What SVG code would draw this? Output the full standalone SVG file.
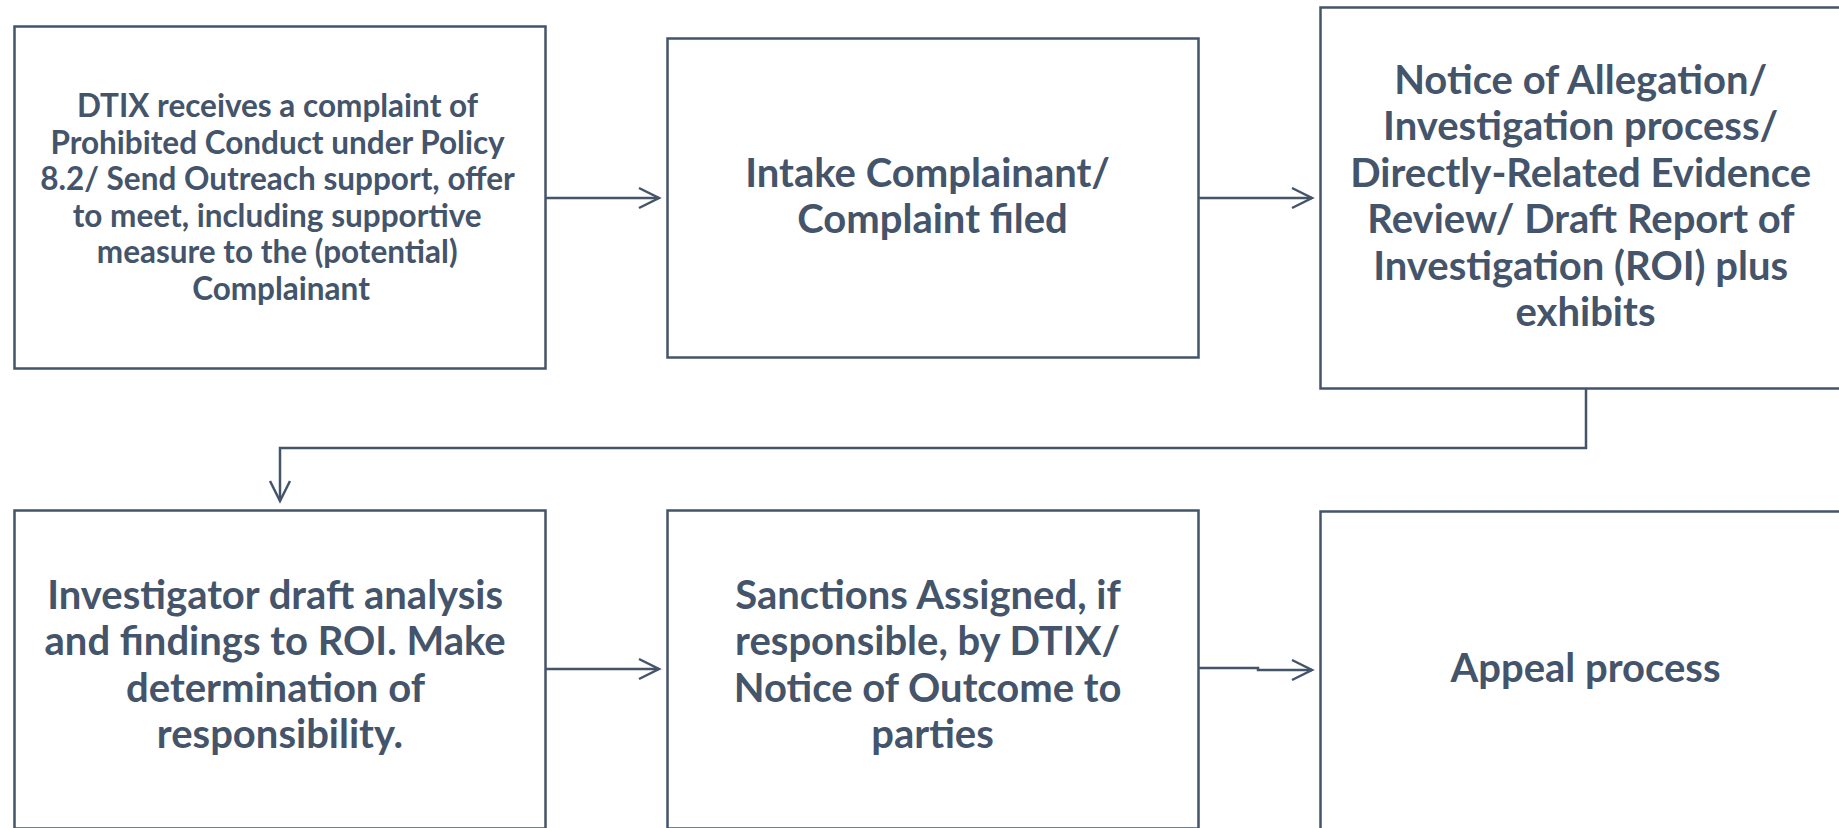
<svg xmlns="http://www.w3.org/2000/svg" width="1839" height="828" viewBox="0 0 1839 828">
  <style>
    .box { fill: #ffffff; stroke: #44546A; stroke-width: 2.5; }
    .conn { fill: none; stroke: #44546A; stroke-width: 2.5; }
    .t { font-family: Lato, "Open Sans", "Liberation Sans", sans-serif; font-weight: 700; fill: #44546A; text-anchor: middle; }
    .s { font-size: 31.5px; }
    .l { font-size: 40px; }
  </style>
  <defs>
    <marker id="arr" markerUnits="userSpaceOnUse" markerWidth="26" markerHeight="26" refX="22" refY="12" orient="auto" viewBox="0 0 26 26">
      <path d="M2,2 L22,12 L2,22" fill="none" stroke="#44546A" stroke-width="2.5"/>
    </marker>
  </defs>
  <rect width="1839" height="828" fill="#ffffff"/>

  <g id="connectors">
    <path class="conn" d="M545,198 H659" marker-end="url(#arr)"/>
    <path class="conn" d="M1198,198 H1312" marker-end="url(#arr)"/>
    <path class="conn" d="M1586,388 V448 H280 V501" marker-end="url(#arr)"/>
    <path class="conn" d="M545,669 H659" marker-end="url(#arr)"/>
    <path class="conn" d="M1198,668 H1258 V670 H1312" marker-end="url(#arr)"/>
  </g>

  <g id="node1">
    <rect class="box" x="14.5" y="26.5" width="531" height="342"/>
    <text class="t s">
      <tspan x="281" y="117">DTIX receives a complaint of</tspan>
      <tspan x="281" y="153.6">Prohibited Conduct under Policy</tspan>
      <tspan x="281" y="190.2">8.2/ Send Outreach support, offer</tspan>
      <tspan x="281" y="226.8">to meet, including supportive</tspan>
      <tspan x="281" y="263.4">measure to the (potential)</tspan>
      <tspan x="281" y="300">Complainant</tspan>
    </text>
  </g>

  <g id="node2">
    <rect class="box" x="667.5" y="38.5" width="531" height="319"/>
    <text class="t l">
      <tspan x="932.5" y="187">Intake Complainant/</tspan>
      <tspan x="932.5" y="233">Complaint filed</tspan>
    </text>
  </g>

  <g id="node3">
    <rect class="box" x="1320.5" y="7.5" width="531" height="381"/>
    <text class="t l">
      <tspan x="1585.5" y="93.5">Notice of Allegation/</tspan>
      <tspan x="1585.5" y="140">Investigation process/</tspan>
      <tspan x="1585.5" y="186.5">Directly-Related Evidence</tspan>
      <tspan x="1585.5" y="233">Review/ Draft Report of</tspan>
      <tspan x="1585.5" y="279.5">Investigation (ROI) plus</tspan>
      <tspan x="1585.5" y="326">exhibits</tspan>
    </text>
  </g>

  <g id="node4">
    <rect class="box" x="14.5" y="510.5" width="531" height="318"/>
    <text class="t l">
      <tspan x="280" y="608.5">Investigator draft analysis</tspan>
      <tspan x="280" y="655">and findings to ROI. Make</tspan>
      <tspan x="280" y="701.5">determination of</tspan>
      <tspan x="280" y="748">responsibility.</tspan>
    </text>
  </g>

  <g id="node5">
    <rect class="box" x="667.5" y="510.5" width="531" height="318"/>
    <text class="t l">
      <tspan x="932.5" y="608.5">Sanctions Assigned, if</tspan>
      <tspan x="932.5" y="655">responsible, by DTIX/</tspan>
      <tspan x="932.5" y="701.5">Notice of Outcome to</tspan>
      <tspan x="932.5" y="748">parties</tspan>
    </text>
  </g>

  <g id="node6">
    <rect class="box" x="1320.5" y="511.5" width="531" height="318"/>
    <text class="t l">
      <tspan x="1585.5" y="682">Appeal process</tspan>
    </text>
  </g>
</svg>
